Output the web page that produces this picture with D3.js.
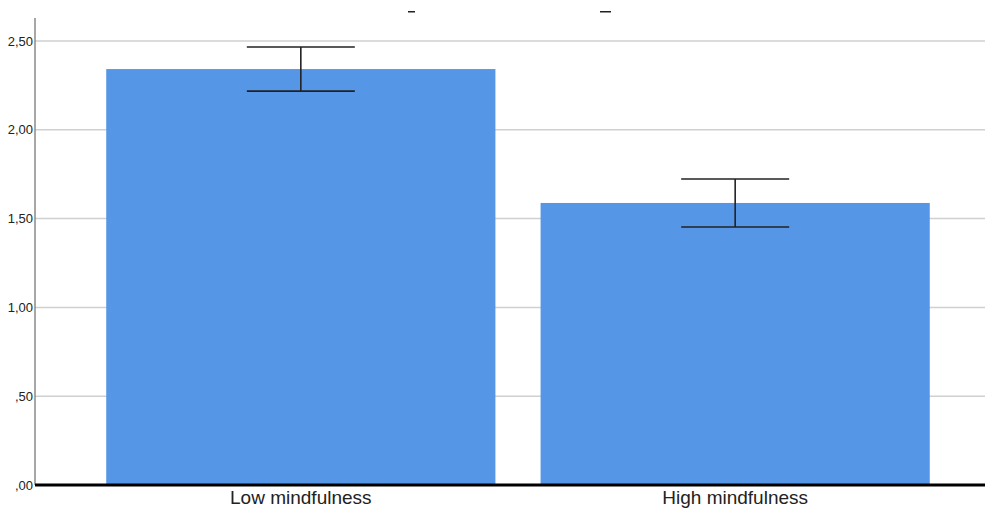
<!DOCTYPE html>
<html>
<head>
<meta charset="utf-8">
<script src="https://cdn.jsdelivr.net/npm/d3@7"></script>
<style>
  html, body { margin: 0; padding: 0; background: #fff; overflow: hidden; }
  svg { display: block; font-family: Arial, "Liberation Sans", sans-serif; }
</style>
</head>
<body>
<svg width="985" height="509"></svg>
<script>
const groups = ["Low mindfulness", "High mindfulness"];
const means = [2.342, 1.588];
const errLow = [2.218, 1.453];
const errHigh = [2.466, 1.723];
const yTicks = [0, 0.5, 1, 1.5, 2, 2.5];

const svg = d3.select("svg");

const x = d3
  .scaleBand()
  .domain(groups)
  .range([35, 1001])
  .paddingInner(0.104)
  .paddingOuter(0.164);

const y = d3.scaleLinear().domain([0, 2.5]).range([485, 41]);

const fmt = v => d3.format(".2f")(v).replace(".", ",").replace(/^0/, "");

// gridlines
svg
  .append("g")
  .selectAll("line")
  .data(yTicks.filter(d => d > 0))
  .enter()
  .append("line")
  .attr("x1", 35)
  .attr("x2", 985)
  .attr("y1", d => y(d))
  .attr("y2", d => y(d))
  .attr("stroke", "#d0d0d0")
  .attr("stroke-width", 1.5);

// bars
svg
  .append("g")
  .selectAll("rect")
  .data(groups)
  .enter()
  .append("rect")
  .attr("x", d => x(d))
  .attr("width", x.bandwidth())
  .attr("y", (d, i) => y(means[i]))
  .attr("height", (d, i) => y(0) - y(means[i]))
  .attr("fill", "#5596e6");

// error bars
const capHalf = 54;
const err = svg.append("g").attr("stroke", "#222").attr("stroke-width", 1.6);
groups.forEach((g, i) => {
  const cx = x(g) + x.bandwidth() / 2;
  err.append("line")
    .attr("x1", cx).attr("x2", cx)
    .attr("y1", y(errHigh[i])).attr("y2", y(errLow[i]));
  err.append("line")
    .attr("x1", cx - capHalf).attr("x2", cx + capHalf)
    .attr("y1", y(errHigh[i])).attr("y2", y(errHigh[i]));
  err.append("line")
    .attr("x1", cx - capHalf).attr("x2", cx + capHalf)
    .attr("y1", y(errLow[i])).attr("y2", y(errLow[i]));
});

// y axis
const yAxis = svg
  .append("g")
  .attr("transform", "translate(35,0)")
  .call(d3.axisLeft(y).tickValues(yTicks).tickFormat(fmt).tickSize(0).tickPadding(2));
yAxis.select(".domain").remove();
yAxis.selectAll("text").attr("font-size", 13).attr("fill", "#222");
svg.append("line")
  .attr("x1", 35).attr("x2", 35)
  .attr("y1", 18).attr("y2", 485)
  .attr("stroke", "#8a8a8a")
  .attr("stroke-width", 1.5);

// x axis baseline and labels
svg.append("line")
  .attr("x1", 35).attr("x2", 985)
  .attr("y1", y(0)).attr("y2", y(0))
  .attr("stroke", "#000")
  .attr("stroke-width", 3);

svg
  .append("g")
  .selectAll("text")
  .data(groups)
  .enter()
  .append("text")
  .attr("x", d => x(d) + x.bandwidth() / 2)
  .attr("y", 504)
  .attr("text-anchor", "middle")
  .attr("font-size", 19)
  .attr("fill", "#222")
  .text(d => d);

// clipped title remnants at the top edge
svg.append("rect").attr("x", 408).attr("y", 11).attr("width", 7).attr("height", 1.5).attr("fill", "#222");
svg.append("rect").attr("x", 600).attr("y", 11).attr("width", 11).attr("height", 1.5).attr("fill", "#222");
</script>
</body>
</html>
